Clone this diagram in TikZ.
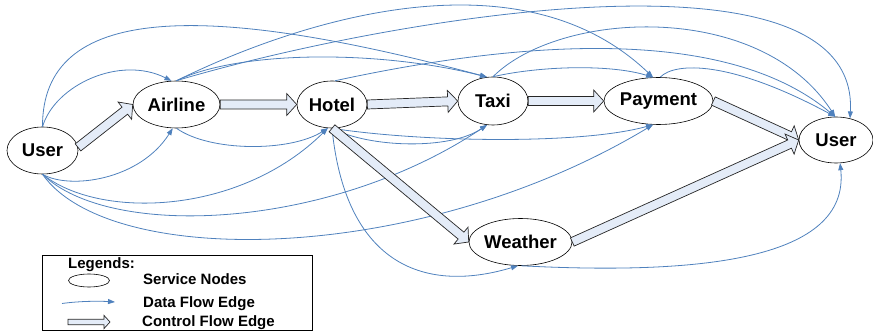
\documentclass[tikz,border=0pt]{standalone}
\usepackage{fontspec}
\setmainfont{Liberation Sans}
\usepackage{tikz}
\usetikzlibrary{arrows.meta,calc,shapes.geometric}
\definecolor{flowblue}{RGB}{79,129,189}
\definecolor{ctrlfill}{RGB}{228,236,248}
\tikzset{
  svc/.style ={draw, ellipse, fill=white, line width=0.6pt, inner sep=0pt,
               font=\fontsize{18.5}{20}\selectfont\bfseries},
  df/.style  ={draw=flowblue, line width=0.8pt, -{Triangle[length=7pt,width=5pt]}},
  cf/.style  ={draw=black!85, fill=ctrlfill, line width=0.7pt, line join=miter},
  lgd/.style ={font=\fontsize{15}{17}\selectfont\bfseries, inner sep=0pt, anchor=base west},
}
% hollow block arrow for control flow: [scale]{from}{to}
\newcommand{\ctrlflow}[3][1]{%
  \coordinate (cs) at (#2);
  \coordinate (ce) at (#3);
  \coordinate (ch) at ($(ce)!{10pt*#1}!(cs)$);
  \filldraw[cf] ($(cs)!{4.5pt*#1}!90:(ce)$) -- ($(ch)!{4.5pt*#1}!-90:(cs)$)
    -- ($(ch)!{11pt*#1}!-90:(cs)$) -- (ce) -- ($(ch)!{11pt*#1}!90:(cs)$)
    -- ($(ch)!{4.5pt*#1}!90:(cs)$) -- ($(cs)!{4.5pt*#1}!-90:(ce)$) -- cycle;
}

\begin{document}
\begin{tikzpicture}[x=1pt,y=-1pt]
\useasboundingbox (0,0) rectangle (873,331);
\node[svc,minimum width=71pt,minimum height=47pt] (userl) at (42.5,150.5) {User};
\node[svc,minimum width=87pt,minimum height=47pt] (airline) at (176.5,104.5) {Airline};
\node[svc,minimum width=70pt,minimum height=47pt] (hotel) at (332,104.5) {Hotel};
\node[svc,minimum width=70pt,minimum height=48pt] (taxi) at (493,101) {Taxi};
\node[svc,minimum width=107pt,minimum height=47pt] (payment) at (658.5,101) {Payment};
\node[svc,minimum width=103pt,minimum height=47pt] (weather) at (520.5,242) {Weather};
\node[svc,minimum width=74pt,minimum height=46pt] (userr) at (836,140) {User};

% data flow
\draw[df] (userl.north) .. controls (55,85) and (120,55) .. (airline.102);
\draw[df] (userl.north) .. controls (42,5) and (200,0) .. (taxi.104);
\draw[df] (userl.south) .. controls (70,190) and (140,180) .. (airline.261);
\draw[df] (userl.south) .. controls (100,220) and (240,215) .. (hotel.260);
\draw[df] (userl.south) .. controls (110,240) and (330,230) .. (taxi.256);
\draw[df] (userl.south) .. controls (110,270) and (420,265) .. (payment.257);
\draw[df] (airline.north) .. controls (300,20) and (520,-50) .. (payment.103);
\draw[df] (airline.north) .. controls (380,20) and (860,-65) .. (userr.57);
\draw[df] (airline.north) .. controls (240,50) and (380,50) .. (taxi.104);
\draw[df] (airline.south) .. controls (210,152) and (290,152) .. (hotel.260);
\draw[df] (hotel.83) .. controls (500,45) and (720,20) .. (userr.92);
\draw[df] (hotel.south) .. controls (370,148) and (450,150) .. (taxi.256);
\draw[df] (hotel.south) .. controls (420,142) and (580,145) .. (payment.257);
\draw[df] (hotel.south) .. controls (345,260) and (420,295) .. (weather.264);
\draw[df] (taxi.north) .. controls (560,10) and (760,0) .. (userr.92);
\draw[df] (taxi.north) .. controls (540,66) and (610,64) .. (payment.103);
\draw[df] (payment.86) .. controls (675,62) and (730,60) .. (userr.92);
\draw[df] (weather.272) .. controls (700,275) and (850,260) .. (userr.280);

% control flow
\ctrlflow{userl.5}{airline.west}
\ctrlflow{airline.east}{hotel.west}
\ctrlflow{hotel.east}{taxi.west}
\ctrlflow{taxi.east}{payment.west}
\ctrlflow{payment.east}{userr.west}
\ctrlflow{hotel.south}{weather.west}
\ctrlflow{weather.east}{userr.west}

% legend
\draw[line width=0.8pt] (42,255) rectangle (312,330);
\node[lgd] (lgtitle) at (68,269) {Legends:};
\node[draw,ellipse,line width=0.6pt,minimum width=41pt,minimum height=13pt,inner sep=0pt] (lgsvc) at (89,280.5) {};
\node[lgd] (lgsvctxt) at (143,284.5) {Service Nodes};
\coordinate (lgdfa) at (62,303.5);
\coordinate (lgdfb) at (115,302);
\draw[df] (lgdfa) .. controls (80,301) and (100,301) .. (lgdfb);
\node[lgd] (lgdftxt) at (143,307.5) {Data Flow Edge};
\coordinate (lgcfa) at (68,322);
\coordinate (lgcfb) at (110,322);
\ctrlflow[0.6]{lgcfa}{lgcfb}
\node[lgd] (lgcftxt) at (142,326) {Control Flow Edge};
\end{tikzpicture}
\end{document}
